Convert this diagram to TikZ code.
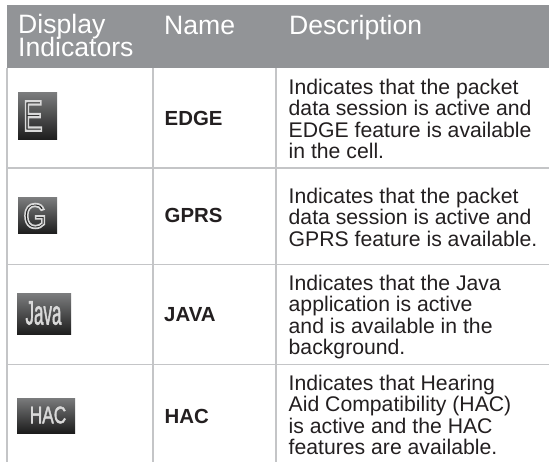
\documentclass[tikz,border=0pt]{standalone}
\usepackage{fontspec}
\setmainfont{Liberation Sans}
\newfontfamily\glowbig[FakeBold=5]{Liberation Sans}
\newfontfamily\glowmid[FakeBold=2]{Liberation Sans}
\definecolor{hdr}{HTML}{929497}
\definecolor{rule}{HTML}{C4C5C7}
\definecolor{ink}{HTML}{231F20}
\definecolor{icontop}{HTML}{7A7B7C}
\definecolor{iconbot}{HTML}{1C1C1C}
\tikzset{
  headtxt/.style={anchor=base west,inner sep=0pt,text=white,font=\fontsize{26.6}{23}\selectfont},
  nametxt/.style={anchor=base west,inner sep=0pt,text=ink,font=\fontsize{20.4}{21}\selectfont\bfseries},
  desctxt/.style={anchor=north west,inner sep=0pt,text=ink,align=left,font=\fontsize{21.2}{21.4}\selectfont},
  gridline/.style={draw=rule,line width=1.4pt},
  iconbox/.style={top color=icontop,bottom color=iconbot,draw=none},
  icontxt/.style={inner sep=0pt,text=white!85!black}
}
\newcommand{\outlinedtext}[1]{\special{pdf:code 0.12 g 0.85 G}#1}
\begin{document}
\begin{tikzpicture}[x=1pt,y=-1pt]
\useasboundingbox (0,0) rectangle (549,462);
\fill[white] (0,0) rectangle (549,462);
\fill[hdr] (6.5,5) rectangle (549,68);
\coordinate (t1) at (7,68); \coordinate (b1) at (7,462);
\coordinate (t2) at (153,68); \coordinate (b2) at (153,462);
\coordinate (t3) at (276,68); \coordinate (b3) at (276,462);
\draw[gridline] (t1) -- (b1);
\draw[gridline] (t2) -- (b2);
\draw[gridline] (t3) -- (b3);
\foreach \yy in {168,264.5,364.7} \draw[gridline] (7,\yy) -- (549,\yy);
\node[headtxt] (h1) at (18,33.5) {Display};
\node[headtxt] (h1b) at (18,57) {Indicators};
\node[headtxt] (h2) at (164,34.5) {Name};
\node[headtxt] (h3) at (289,34.5) {Description};
\node[nametxt] (n1) at (164.5,126) {EDGE};
\node[nametxt] (n2) at (164.5,223) {GPRS};
\node[nametxt] (n3) at (164,322) {JAVA};
\node[nametxt] (n4) at (164.5,423) {HAC};
\node[desctxt] (d1) at (288.5,79) {Indicates that the packet\\data session is active and\\EDGE feature is available\\in the cell.};
\node[desctxt] (d2) at (288.5,188) {Indicates that the packet\\data session is active and\\GPRS feature is available.};
\node[desctxt] (d3) at (288.5,275) {Indicates that the Java\\application is active\\and is available in the\\background.};
\node[desctxt] (d4) at (288.5,375) {Indicates that Hearing\\Aid Compatibility (HAC)\\is active and the HAC\\features are available.};
\fill[iconbox] (18,93) rectangle (57,140);
\node[icontxt,xscale=.68,font=\fontsize{43}{43}\glowbig] (i1) at (33,116) {\outlinedtext{E}};
\fill[iconbox] (18,198) rectangle (57,234);
\node[icontxt,xscale=.85,font=\fontsize{35}{35}\glowbig] (i2) at (35,216) {\outlinedtext{G}};
\fill[iconbox] (17,294) rectangle (71,335);
\node[icontxt,xscale=.5,font=\fontsize{34}{34}\glowmid] (i3) at (43.5,313) {Java};
\fill[iconbox] (17,398) rectangle (75,433);
\node[icontxt,xscale=.72,font=\fontsize{24}{24}\glowmid] (i4) at (48,415) {HAC};
\end{tikzpicture}
\end{document}
